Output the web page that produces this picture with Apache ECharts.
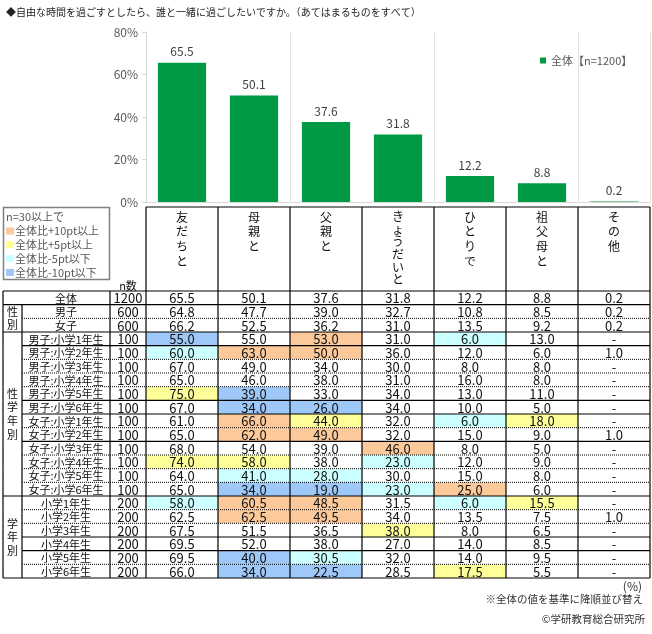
<!DOCTYPE html>
<html>
<head>
<meta charset="utf-8">
<script src="https://cdn.jsdelivr.net/npm/echarts@6/dist/echarts.min.js"></script>
<style>
html,body{margin:0;padding:0;background:#fff;}
#main{width:652px;height:634px;}
</style>
</head>
<body>
<div id="main"></div>
<script>
// ---------- DATA ----------
const categories = ['友だちと', '母親と', '父親と', 'きょうだいと', 'ひとりで', '祖父母と', 'その他'];
const totalValues = [65.5, 50.1, 37.6, 31.8, 12.2, 8.8, 0.2];
const yTickValues = [0, 20, 40, 60, 80];
const seriesName = '全体【n=1200】';

const rowLabels = ['全体', '男子', '女子',
  '男子:小学1年生', '男子:小学2年生', '男子:小学3年生', '男子:小学4年生', '男子:小学5年生', '男子:小学6年生',
  '女子:小学1年生', '女子:小学2年生', '女子:小学3年生', '女子:小学4年生', '女子:小学5年生', '女子:小学6年生',
  '小学1年生', '小学2年生', '小学3年生', '小学4年生', '小学5年生', '小学6年生'];
const rowN = [1200, 600, 600,
  100, 100, 100, 100, 100, 100, 100, 100, 100, 100, 100, 100,
  200, 200, 200, 200, 200, 200];
const groupLabels = ['', '性別', '性学年別', '学年別'];
const rowGroup = [0, 1, 1, 2, 2, 2, 2, 2, 2, 2, 2, 2, 2, 2, 2, 3, 3, 3, 3, 3, 3];

const friends = [65.5, 64.8, 66.2, 55.0, 60.0, 67.0, 65.0, 75.0, 67.0, 61.0, 65.0, 68.0, 74.0, 64.0, 65.0, 58.0, 62.5, 67.5, 69.5, 69.5, 66.0];
const mother = [50.1, 47.7, 52.5, 55.0, 63.0, 49.0, 46.0, 39.0, 34.0, 66.0, 62.0, 54.0, 58.0, 41.0, 34.0, 60.5, 62.5, 51.5, 52.0, 40.0, 34.0];
const father = [37.6, 39.0, 36.2, 53.0, 50.0, 34.0, 38.0, 33.0, 26.0, 44.0, 49.0, 39.0, 38.0, 28.0, 19.0, 48.5, 49.5, 36.5, 38.0, 30.5, 22.5];
const siblings = [31.8, 32.7, 31.0, 31.0, 36.0, 30.0, 31.0, 34.0, 34.0, 32.0, 32.0, 46.0, 23.0, 30.0, 23.0, 31.5, 34.0, 38.0, 27.0, 32.0, 28.5];
const alone = [12.2, 10.8, 13.5, 6.0, 12.0, 8.0, 16.0, 13.0, 10.0, 6.0, 15.0, 8.0, 12.0, 15.0, 25.0, 6.0, 13.5, 8.0, 14.0, 14.0, 17.5];
const grandparents = [8.8, 8.5, 9.2, 13.0, 6.0, 8.0, 8.0, 11.0, 5.0, 18.0, 9.0, 5.0, 9.0, 8.0, 6.0, 15.5, 7.5, 6.5, 8.5, 9.5, 5.5];
const others = [0.2, 0.2, 0.2, null, 1.0, null, null, null, null, null, 1.0, null, null, null, null, null, 1.0, null, null, null, null];
const tableColumns = [friends, mother, father, siblings, alone, grandparents, others];

// ---------- STYLE ----------
const FONT = '"Noto Sans CJK JP", "Noto Sans", sans-serif';
const GREEN = '#009a44';
const COL_ORANGE = '#fcc99b', COL_YELLOW = '#ffff99', COL_CYAN = '#ccffff', COL_BLUE = '#9dc8f8';
const LEFT_COLS = [19, 88, 36]; // group, label, n widths
const HEADER_H = 84;
// bottom border style per row
const rowBorder = ['s', 'd', 's', 's', 'd', 'd', 'd', 's', 's', 'd', 's', 'd', 'd', 'd', 's', 'd', 'd', 's', 's', 'd', 's'];

function cellColor(c, r) {
  const v = tableColumns[c][r];
  if (r === 0 || v == null || rowN[r] < 30) return '#ffffff';
  const d = Math.round((v - totalValues[c]) * 10) / 10;
  if (d >= 10) return COL_ORANGE;
  if (d >= 5) return COL_YELLOW;
  if (d <= -10) return COL_BLUE;
  if (d <= -5) return COL_CYAN;
  return '#ffffff';
}

const solidLine = { stroke: '#000', lineWidth: 1.2 };
const dotLine = { stroke: '#000', lineWidth: 1, lineDash: [1, 1] };
const NUM_FONT = '13px ' + FONT;

function renderCell(params, api) {
  const c = api.value(0), r = api.value(1);
  const p = api.coord([c, r]);
  const s = api.size([1, 1]);
  const v = tableColumns[c][r];
  return {
    type: 'group',
    children: [
      { type: 'rect', shape: { x: p[0] - s[0] / 2, y: p[1] - s[1] / 2, width: s[0], height: s[1] }, style: { fill: cellColor(c, r) } },
      { type: 'text', style: { text: v == null ? '-' : v.toFixed(1), x: p[0], y: p[1] + 0.5, align: 'center', verticalAlign: 'middle', font: NUM_FONT, fill: '#111' } }
    ]
  };
}

function renderRow(params, api) {
  const r = api.value(1);
  const p = api.coord([0, r]);
  const s = api.size([1, 1]);
  const colW = s[0], rowH = s[1];
  const cs = params.coordSys;
  const top = p[1] - rowH / 2, bottom = top + rowH;
  const xData0 = cs.x, xEnd = cs.x + cs.width;
  const xN = xData0 - LEFT_COLS[2];
  const xLabel = xN - LEFT_COLS[1];
  const xGroup = xLabel - LEFT_COLS[0];
  const g = rowGroup[r];
  const ch = [];
  ch.push({ type: 'text', style: { text: rowLabels[r], x: (xLabel + xN) / 2, y: (top + bottom) / 2 + 0.5, align: 'center', verticalAlign: 'middle', font: '11px ' + FONT, fill: '#111' } });
  ch.push({ type: 'text', style: { text: String(rowN[r]), x: (xN + xData0) / 2, y: (top + bottom) / 2 + 0.5, align: 'center', verticalAlign: 'middle', font: NUM_FONT, fill: '#111' } });
  if (g > 0 && rowGroup[r - 1] !== g) {
    const span = rowGroup.filter(x => x === g).length;
    ch.push({ type: 'text', style: { text: groupLabels[g].split('').join('\n'), x: (xGroup + xLabel) / 2, y: top + span * rowH / 2, align: 'center', verticalAlign: 'middle', lineHeight: 13.6, font: '11px ' + FONT, fill: '#111' } });
  }
  const xs = [xGroup, xN, xData0];
  if (g > 0) xs.push(xLabel);
  for (let c = 1; c <= categories.length; c++) xs.push(xData0 + c * colW);
  xs.forEach(x => ch.push({ type: 'line', shape: { x1: x, y1: top, x2: x, y2: bottom }, style: solidLine }));
  if (r === 0) ch.push({ type: 'line', shape: { x1: xGroup, y1: top, x2: xEnd, y2: top }, style: solidLine });
  const groupEnd = r === rowLabels.length - 1 || rowGroup[r + 1] !== g;
  const x1 = (groupEnd || g === 0) ? xGroup : xLabel;
  ch.push({ type: 'line', shape: { x1: x1, y1: bottom, x2: xEnd, y2: bottom }, style: rowBorder[r] === 'd' ? dotLine : solidLine });
  return { type: 'group', children: ch };
}

function renderHeader(params, api) {
  const c = api.value(0);
  const p = api.coord([c, 0]);
  const s = api.size([1, 1]);
  const cs = params.coordSys;
  const top = cs.y - HEADER_H;
  const x0 = p[0] - s[0] / 2, x1 = x0 + s[0];
  const chars = categories[c].split('');
  const lh = Math.min(14.6, (HEADER_H - 8) / chars.length);
  const ch = [
    { type: 'line', shape: { x1: x0, y1: top, x2: x1, y2: top }, style: solidLine },
    { type: 'line', shape: { x1: x0, y1: top, x2: x0, y2: cs.y }, style: solidLine },
    { type: 'text', style: { text: chars.join('\n'), x: p[0], y: top + 3, align: 'center', verticalAlign: 'top', lineHeight: lh, font: '12px ' + FONT, fill: '#111' } }
  ];
  if (c === categories.length - 1) ch.push({ type: 'line', shape: { x1: x1, y1: top, x2: x1, y2: cs.y }, style: solidLine });
  return { type: 'group', children: ch };
}

const cellData = [];
for (let r = 0; r < rowLabels.length; r++) for (let c = 0; c < categories.length; c++) cellData.push([c, r]);
const rowData = rowLabels.map((_, r) => [0, r]);
const headerData = categories.map((_, c) => [c, 0]);

const legendItems = [
  { text: '全体比+10pt以上', color: COL_ORANGE },
  { text: '全体比+5pt以上', color: COL_YELLOW },
  { text: '全体比-5pt以下', color: COL_CYAN },
  { text: '全体比-10pt以下', color: COL_BLUE }
];
const graphics = [
  { type: 'rect', shape: { x: 3.5, y: 207.5, width: 106, height: 72 }, style: { fill: '#fff', stroke: '#808080', lineWidth: 1.5 } },
  { type: 'text', x: 6, y: 217, style: { text: 'n=30以上で', font: '11px ' + FONT, fill: '#595959', verticalAlign: 'middle' } },
  { type: 'text', x: 128, y: 286, style: { text: 'n数', font: '11px ' + FONT, fill: '#111', align: 'center', verticalAlign: 'middle' } },
  { type: 'text', right: 10, top: 580, style: { text: '(%)', font: '12px ' + FONT, fill: '#333' } },
  { type: 'text', right: 9, top: 594, style: { text: '※全体の値を基準に降順並び替え', font: '10.5px ' + FONT, fill: '#333' } },
  { type: 'text', right: 7, top: 614, style: { text: '©学研教育総合研究所', font: '10.5px ' + FONT, fill: '#333' } }
];
legendItems.forEach((it, i) => {
  const y = 231 + i * 13.8;
  graphics.push({ type: 'rect', shape: { x: 6, y: y - 3.5, width: 8, height: 7 }, style: { fill: it.color } });
  graphics.push({ type: 'text', x: 15, y: y, style: { text: it.text, font: '11px ' + FONT, fill: '#595959', verticalAlign: 'middle' } });
});

const chart = echarts.init(document.getElementById('main'));
chart.setOption({
  animation: false,
  backgroundColor: '#fff',
  title: {
    text: '◆自由な時間を過ごすとしたら、誰と一緒に過ごしたいですか。（あてはまるものをすべて）',
    left: 1, top: 2,
    textStyle: { fontSize: 10, fontWeight: 'normal', color: '#222', fontFamily: FONT }
  },
  legend: {
    data: [seriesName], left: 535, top: 50, icon: 'rect', itemWidth: 6, itemHeight: 6,
    textStyle: { fontSize: 11, color: '#595959', fontFamily: FONT }
  },
  grid: [
    { left: 146, width: 504, top: 32, height: 170 },
    { left: 146, width: 504, top: 291, height: 287 }
  ],
  xAxis: [
    {
      type: 'category', gridIndex: 0, data: categories,
      axisLine: { lineStyle: { color: '#d9d9d9' } }, axisTick: { show: false }, axisLabel: { show: false },
      splitLine: { show: true, lineStyle: { color: '#e3e3e3' } }
    },
    { type: 'category', gridIndex: 1, data: categories, show: false }
  ],
  yAxis: [
    {
      type: 'value', gridIndex: 0, min: yTickValues[0], max: yTickValues[yTickValues.length - 1], interval: 20,
      axisLine: { show: true, lineStyle: { color: '#d9d9d9' } }, axisTick: { show: true, length: 4, lineStyle: { color: '#d9d9d9' } },
      splitLine: { show: false },
      axisLabel: { formatter: '{value}%', color: '#595959', fontSize: 12, fontFamily: FONT, margin: 8 }
    },
    { type: 'category', gridIndex: 1, data: rowLabels, inverse: true, show: false }
  ],
  series: [
    {
      name: seriesName, type: 'bar', xAxisIndex: 0, yAxisIndex: 0, data: totalValues, barWidth: '67%',
      itemStyle: { color: GREEN },
      label: { show: true, position: 'top', distance: 5, color: '#404040', fontSize: 12, fontFamily: FONT, formatter: p => p.value.toFixed(1) }
    },
    { type: 'custom', xAxisIndex: 1, yAxisIndex: 1, data: cellData, renderItem: renderCell, z: 2, silent: true },
    { type: 'custom', xAxisIndex: 1, yAxisIndex: 1, data: rowData, renderItem: renderRow, z: 3, silent: true },
    { type: 'custom', xAxisIndex: 1, yAxisIndex: 1, data: headerData, renderItem: renderHeader, z: 3, silent: true }
  ],
  graphic: graphics
});
</script>
</body>
</html>
